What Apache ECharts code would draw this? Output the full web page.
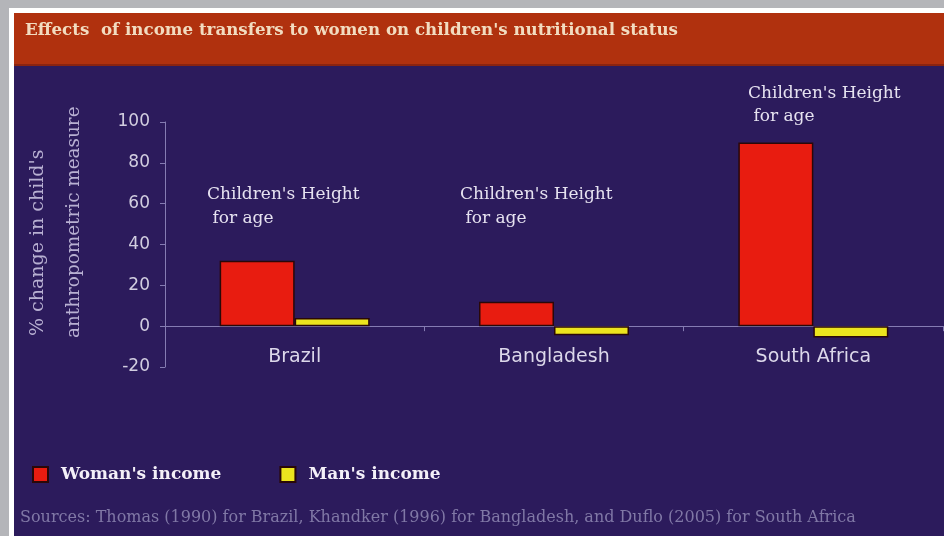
<!DOCTYPE html>
<html>
<head>
<meta charset="utf-8">
<script src="https://cdn.jsdelivr.net/npm/echarts@6/dist/echarts.min.js"></script>
<style>
  body { margin: 0; background: #b4b5b9; }
  .frame { position: absolute; left: 9px; top: 8px; width: 935px; height: 528px; background: #ffffff; }
  .band { position: absolute; left: 14px; top: 13px; width: 930px; height: 53px; background: #b0310e; border-bottom: 2px solid #8a2410; box-sizing: border-box; }
  .panel { position: absolute; left: 14px; top: 66px; width: 930px; height: 470px; background: #2c1b5c; }
  #chart { position: absolute; left: 0; top: 0; width: 944px; height: 536px; }
</style>
</head>
<body>
<div class="frame"></div>
<div class="band"></div>
<div class="panel"></div>
<div id="chart"></div>
<script>
// 数据
var categories = ["Brazil", "Bangladesh", "South Africa"];
var womanIncome = [32, 12, 90];
var manIncome = [4, -4.5, -5.5];
var seriesNames = ["Woman's income", "Man's income"];
var yMin = -20, yMax = 100, yStep = 20;
var noteText = "Children's Height\n for age";

var serif = "DejaVu Serif";
var sans = "DejaVu Sans";
var axisColor = "#857cb2";

var myChart = echarts.init(document.getElementById("chart"));

myChart.setOption({
  backgroundColor: "transparent",
  animation: false,
  title: {
    text: "Effects  of income transfers to women on children's nutritional status",
    left: 25,
    top: 22,
    padding: 0,
    textStyle: { color: "#f2dcc0", fontFamily: serif, fontWeight: "bold", fontSize: 16.7 }
  },
  legend: {
    left: 32,
    top: 466,
    padding: 0,
    itemWidth: 15,
    itemHeight: 15,
    itemGap: 58,
    icon: "rect",
    textStyle: { color: "#f4f0f8", fontFamily: serif, fontWeight: "bold", fontSize: 17, padding: [0, 0, 0, 8] },
    data: seriesNames
  },
  grid: { left: 165, right: 1, top: 122, bottom: 169 },
  xAxis: {
    type: "category",
    data: categories,
    axisLine: { onZero: true, lineStyle: { color: axisColor, width: 1 } },
    axisTick: { show: true, length: 5, alignWithLabel: false, lineStyle: { color: axisColor } },
    axisLabel: { color: "#dcd8ea", fontFamily: sans, fontSize: 19, margin: -19 }
  },
  yAxis: {
    type: "value",
    min: yMin,
    max: yMax,
    interval: yStep,
    splitLine: { show: false },
    axisLine: { show: true, lineStyle: { color: axisColor, width: 1 } },
    axisTick: { show: true, length: 5, lineStyle: { color: axisColor } },
    axisLabel: { color: "#d2cee0", fontFamily: sans, fontSize: 17, margin: 15 }
  },
  series: [
    {
      name: seriesNames[0],
      type: "bar",
      barWidth: 75,
      barGap: "0%",
      data: womanIncome,
      itemStyle: { color: "#e81c10", borderColor: "#2a0808", borderWidth: 1.5 }
    },
    {
      name: seriesNames[1],
      type: "bar",
      barWidth: 75,
      barGap: "0%",
      data: manIncome,
      itemStyle: { color: "#ece41e", borderColor: "#2a0808", borderWidth: 1.5 }
    }
  ],
  graphic: [
    { type: "text", left: 207, top: 183, style: { text: noteText, fill: "#e6e2f0", font: "17px " + serif, lineHeight: 24 } },
    { type: "text", left: 460, top: 183, style: { text: noteText, fill: "#e6e2f0", font: "17px " + serif, lineHeight: 24 } },
    { type: "text", left: 748, top: 82, style: { text: noteText, fill: "#e6e2f0", font: "17px " + serif, lineHeight: 23 } },
    { type: "text", x: 38, y: 336, rotation: Math.PI / 2,
      style: { text: "% change in child's", fill: "#b8b0d2", font: "19px " + serif, align: "left", verticalAlign: "middle" } },
    { type: "text", x: 74, y: 338, rotation: Math.PI / 2,
      style: { text: "anthropometric measure", fill: "#b8b0d2", font: "18.4px " + serif, align: "left", verticalAlign: "middle" } },
    { type: "text", left: 20, top: 510,
      style: { text: "Sources: Thomas (1990) for Brazil, Khandker (1996) for Bangladesh, and Duflo (2005) for South Africa", fill: "#8078a6", font: "16px " + serif } }
  ]
});
</script>
</body>
</html>
